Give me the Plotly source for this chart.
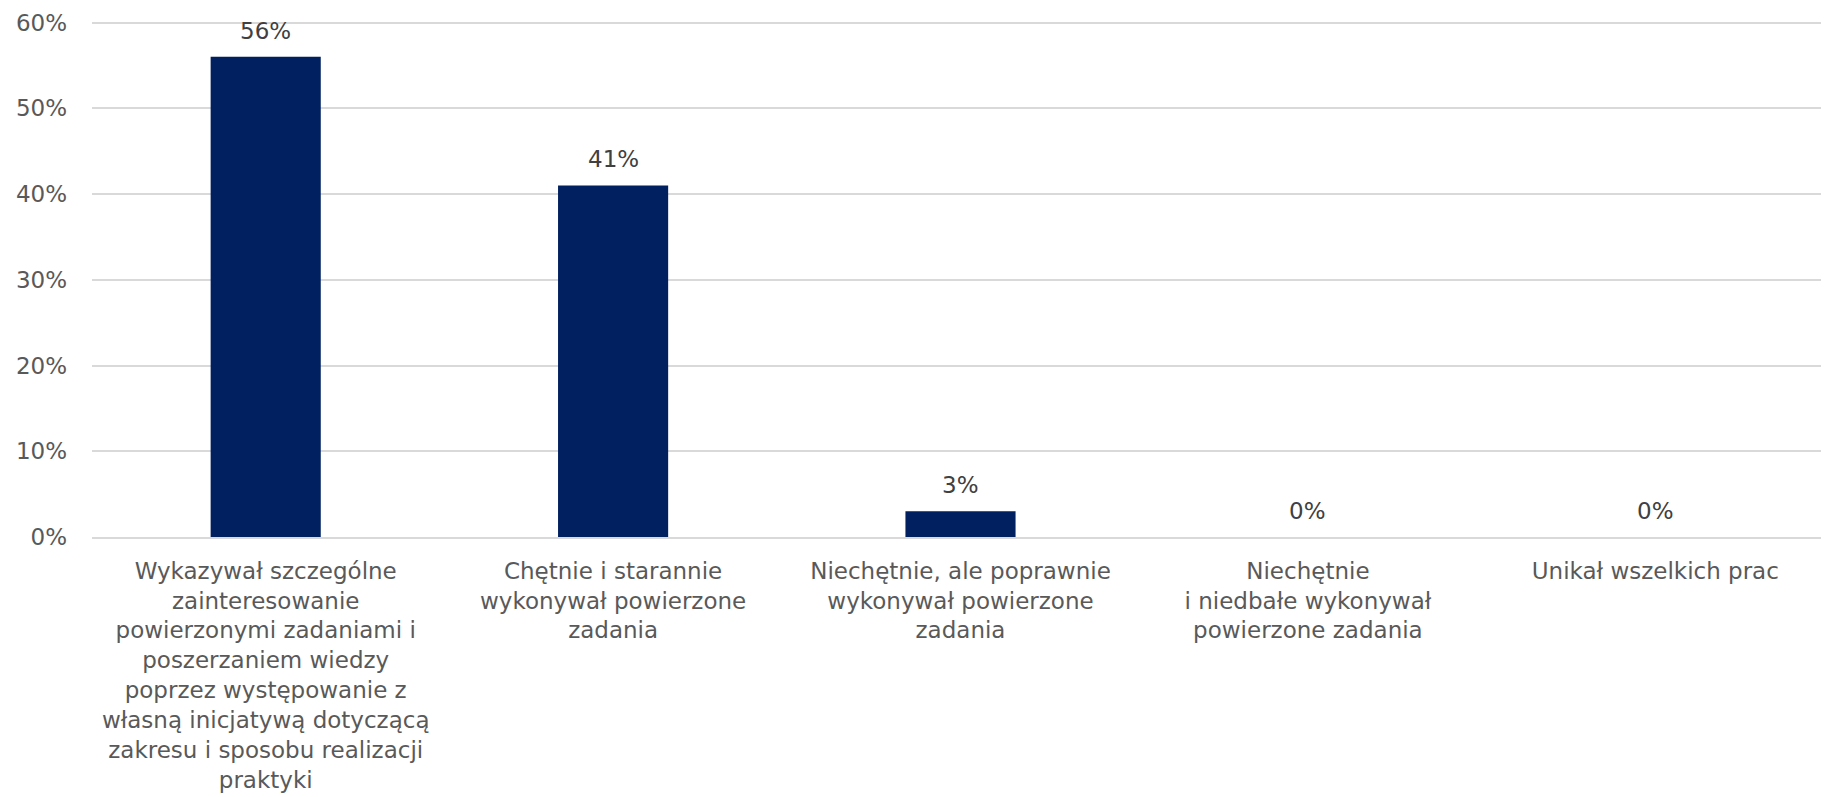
import plotly.graph_objects as go

categories = [
    "Wykazywał szczególne<br>zainteresowanie<br>powierzonymi zadaniami i<br>poszerzaniem wiedzy<br>poprzez występowanie z<br>własną inicjatywą dotyczącą<br>zakresu i sposobu realizacji<br>praktyki",
    "Chętnie i starannie<br>wykonywał powierzone<br>zadania",
    "Niechętnie, ale poprawnie<br>wykonywał powierzone<br>zadania",
    "Niechętnie<br>i niedbałe wykonywał<br>powierzone zadania",
    "Unikał wszelkich prac",
]
values = [56, 41, 3, 0, 0]
y_ticks = [0, 10, 20, 30, 40, 50, 60]
y_tick_labels = ["0%", "10%", "20%", "30%", "40%", "50%", "60%"]

FONT = "DejaVu Sans, Liberation Sans, Arial, sans-serif"

fig = go.Figure()
fig.add_trace(go.Bar(
    x=categories,
    y=values,
    marker=dict(color="#002060", line=dict(width=0)),
    hoverinfo="skip",
))

for c, v in zip(categories, values):
    fig.add_annotation(
        x=c, y=v, text=f"{v}%", showarrow=False,
        yanchor="middle", yshift=26,
        font=dict(family=FONT, size=23, color="#404040"),
    )

fig.update_layout(
    width=1821, height=789,
    margin=dict(l=84, r=0, t=6, b=260),
    plot_bgcolor="white", paper_bgcolor="white",
    showlegend=False,
    bargap=0.683,
    font=dict(family=FONT, size=23, color="#595959"),
)
fig.update_xaxes(
    showgrid=False, showline=True, linecolor="#d9d9d9", linewidth=2,
    ticks="", automargin=False, ticklabelstandoff=12,
    tickfont=dict(family=FONT, size=23, color="#595959"),
)
fig.update_yaxes(
    range=[0, 61], tickvals=y_ticks, ticktext=y_tick_labels,
    showgrid=True, gridcolor="#d9d9d9", gridwidth=2, zeroline=False,
    showline=False, ticks="", automargin=False, ticklabelstandoff=24,
    tickfont=dict(family=FONT, size=23, color="#595959"),
)

fig.write_html("out.html")
